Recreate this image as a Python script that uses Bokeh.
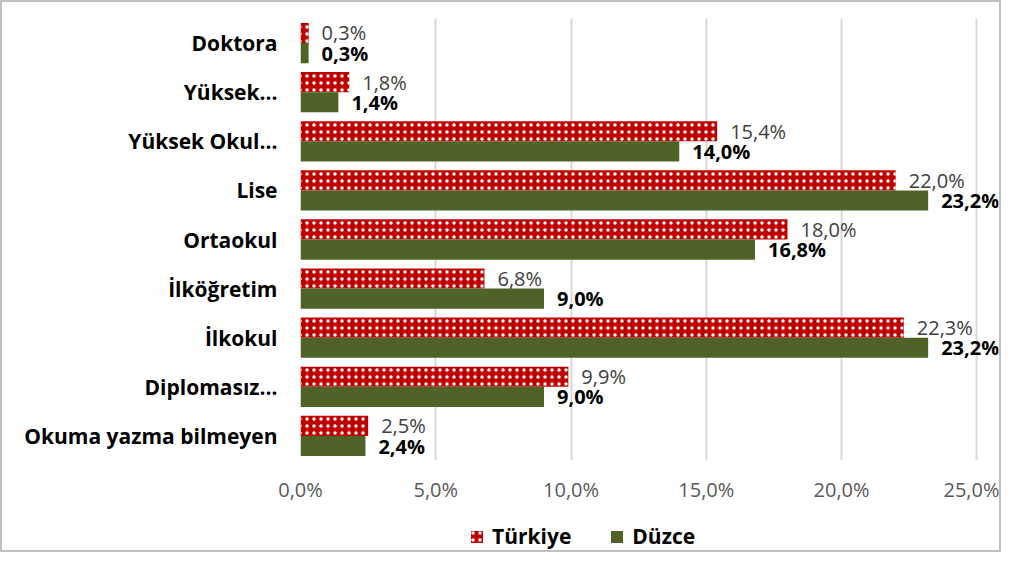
from bokeh.plotting import figure
from bokeh.layouts import column
from bokeh.models import ColumnDataSource, FactorRange, Legend, LegendItem, FixedTicker, Range1d
from bokeh.core.properties import value
from bokeh.transform import dodge
from bokeh.embed import file_html
from bokeh.resources import INLINE

categories = ["Doktora", "Yüksek...", "Yüksek Okul...", "Lise", "Ortaokul",
              "İlköğretim", "İlkokul", "Diplomasız...", "Okuma yazma bilmeyen"]
turkiye = [0.3, 1.8, 15.4, 22.0, 18.0, 6.8, 22.3, 9.9, 2.5]
duzce = [0.3, 1.4, 14.0, 23.2, 16.8, 9.0, 23.2, 9.0, 2.4]
series_names = ["Türkiye", "Düzce"]
tick_values = [0, 5, 10, 15, 20, 25]
tick_labels = ["0,0%", "5,0%", "10,0%", "15,0%", "20,0%", "25,0%"]

def fmt(v):
    return f"{v:.1f}".replace(".", ",") + "%"

src = ColumnDataSource(dict(
    cat=categories,
    tr=turkiye,
    dz=duzce,
    tr_lab=[fmt(v) for v in turkiye],
    dz_lab=[fmt(v) for v in duzce],
))

FONT = "Open Sans"
RED = "#C00000"
GREEN = "#4F6228"
RED_STYLE = dict(fill_color=RED, line_color=None, hatch_pattern="dot",
                 hatch_color="white", hatch_scale=7, hatch_weight=1.6)
GREEN_STYLE = dict(fill_color=GREEN, line_color=None)

# x range runs a little past 25 % so the outside data labels are not clipped
p = figure(width=997, height=503, output_backend="svg", toolbar_location=None,
           y_range=FactorRange(*reversed(categories)), x_range=(0, 25.8))
p.min_border_left = 298
p.min_border_right = 1
p.min_border_top = 16
p.min_border_bottom = 39
p.outline_line_color = None
p.background_fill_color = "white"
p.border_fill_color = "white"

p.hbar(y=dodge("cat", 0.205, range=p.y_range), right="tr", height=0.41, left=0,
       source=src, **RED_STYLE)
p.hbar(y=dodge("cat", -0.205, range=p.y_range), right="dz", height=0.41, left=0,
       source=src, **GREEN_STYLE)

p.text(x="tr", y=dodge("cat", 0.205, range=p.y_range), text="tr_lab", source=src,
       x_offset=13, text_baseline="middle", text_align="left",
       text_font=value(FONT), text_font_size="20px", text_color="#404040")
p.text(x="dz", y=dodge("cat", -0.205, range=p.y_range), text="dz_lab", source=src,
       x_offset=13, text_baseline="middle", text_align="left",
       text_font=value(FONT), text_font_size="20px", text_font_style="bold",
       text_color="#000000")

p.xaxis.ticker = FixedTicker(ticks=tick_values)
p.xaxis.major_label_overrides = {v: l for v, l in zip(tick_values, tick_labels)}
p.xaxis.axis_line_color = None
p.xaxis.major_tick_line_color = None
p.xaxis.minor_tick_line_color = None
p.xaxis.major_label_text_font = FONT
p.xaxis.major_label_text_font_size = "20px"
p.xaxis.major_label_text_color = "#595959"
p.xaxis.major_label_standoff = 9

p.yaxis.axis_line_color = None
p.yaxis.major_tick_line_color = None
p.yaxis.major_label_text_font = FONT
p.yaxis.major_label_text_font_size = "21px"
p.yaxis.major_label_text_font_style = "bold"
p.yaxis.major_label_text_color = "#000000"
p.yaxis.major_label_standoff = 17

p.xgrid.grid_line_color = "#d9d9d9"
p.xgrid.grid_line_width = 2
p.ygrid.grid_line_color = None

# legend strip below the chart (its frame is aligned with the chart's frame)
lg = figure(width=997, height=45, output_backend="svg", toolbar_location=None,
            x_range=Range1d(0, 1), y_range=Range1d(0, 1),
            min_border=0, x_axis_type=None, y_axis_type=None)
lg.outline_line_color = None
lg.grid.visible = False
lg.background_fill_color = "white"
lg.border_fill_color = "white"
# swatch renderers only feed the legend; their single point sits outside the view
key_src = ColumnDataSource(dict(x=[-9.0], y=[-9.0]))
k1 = lg.rect(x="x", y="y", width=0.1, height=0.1, source=key_src, **RED_STYLE)
k2 = lg.rect(x="x", y="y", width=0.1, height=0.1, source=key_src, **GREEN_STYLE)
legend = Legend(items=[LegendItem(label=series_names[0], renderers=[k1]),
                       LegendItem(label=series_names[1], renderers=[k2])],
                orientation="horizontal", location=(169, 0),
                label_text_font=FONT, label_text_font_size="21px",
                label_text_font_style="bold", label_text_color="#000000",
                glyph_width=15, glyph_height=15, label_standoff=8, spacing=38,
                padding=0, margin=0, border_line_color=None, background_fill_alpha=0)
lg.add_layout(legend, "center")

layout = column(p, lg, spacing=0,
                styles={"border": "2px solid #bfbfbf", "background-color": "white"})

open("out.html", "w").write(file_html(layout, INLINE))
